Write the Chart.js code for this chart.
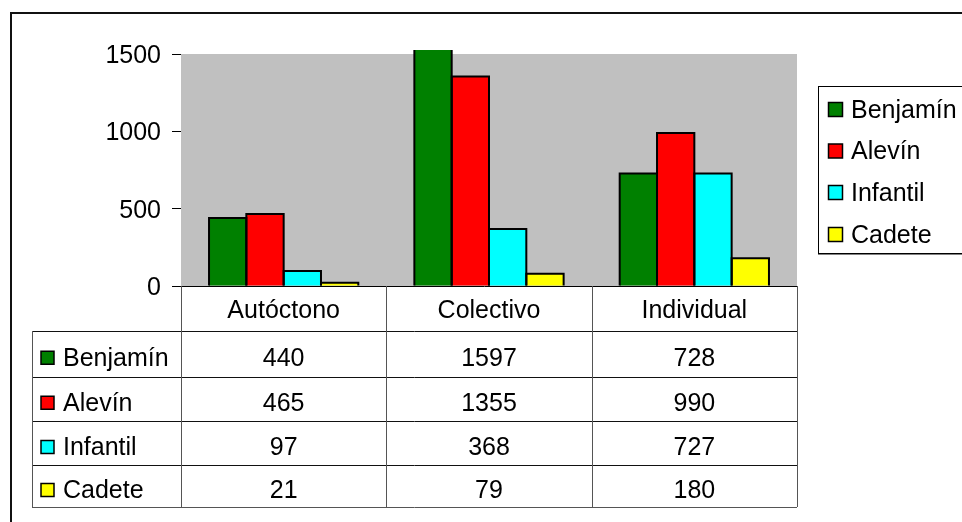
<!DOCTYPE html>
<html>
<head>
<meta charset="utf-8">
<script src="https://cdn.jsdelivr.net/npm/chart.js@4.4.0/dist/chart.umd.min.js"></script>
<style>
html,body{margin:0;padding:0;background:#fff;}
#wrap{width:962px;height:522px;position:relative;}
</style>
</head>
<body>
<div id="wrap"><canvas id="c" width="962" height="522"></canvas></div>
<script>
const categories = ['Autóctono', 'Colectivo', 'Individual'];
const seriesNames = ['Benjamín', 'Alevín', 'Infantil', 'Cadete'];
const benjamin = [440, 1597, 728];
const alevin = [465, 1355, 990];
const infantil = [97, 368, 727];
const cadete = [21, 79, 180];
const yTicks = [0, 500, 1000, 1500];

const seriesValues = [benjamin, alevin, infantil, cadete];
const seriesColors = ['#008000', '#FF0000', '#00FFFF', '#FFFF00'];
const FONT = '"Liberation Sans", Arial, sans-serif';
const FS = 25;
const TOP_OVERFLOW = 4;

const excelPlugin = {
  id: 'excelLook',
  beforeDatasetsDraw(chart) {
    const {ctx, chartArea: a} = chart;
    ctx.save();
    ctx.fillStyle = '#C0C0C0';
    ctx.fillRect(a.left, a.top, a.right - a.left, a.bottom - a.top);
    ctx.restore();
  },
  afterDatasetsDraw(chart) {
    const {ctx, chartArea: a} = chart;
    ctx.save();
    ctx.beginPath();
    ctx.rect(a.left, a.top - TOP_OVERFLOW, a.right - a.left, a.bottom - a.top + TOP_OVERFLOW + 2);
    ctx.clip();
    ctx.strokeStyle = '#000';
    ctx.lineWidth = 2;
    chart.data.datasets.forEach((ds, di) => {
      const meta = chart.getDatasetMeta(di);
      meta.data.forEach(el => {
        const p = el.getProps(['x', 'y', 'base', 'width'], true);
        const l = p.x - p.width / 2, r = p.x + p.width / 2;
        ctx.beginPath();
        ctx.moveTo(l, p.base);
        ctx.lineTo(l, p.y);
        ctx.lineTo(r, p.y);
        ctx.lineTo(r, p.base);
        ctx.stroke();
      });
    });
    ctx.restore();
  },
  afterDraw(chart) {
    const {ctx, chartArea: a} = chart;
    const xs = chart.scales.x;
    const n = categories.length;
    const colW = (a.right - a.left) / n;
    const rowY = [a.bottom, 331, 376.5, 421, 465, 507];
    const tableLeft = 32;
    const HDR_OFF = 3;
    const ROW_OFF = 5;
    ctx.save();
    ctx.font = FS + 'px ' + FONT;
    ctx.textBaseline = 'middle';

    // zero / header top line
    ctx.strokeStyle = '#000';
    ctx.lineWidth = 1;
    ctx.beginPath();
    ctx.moveTo(a.left - 9, Math.round(a.bottom) + 0.5);
    ctx.lineTo(a.right, Math.round(a.bottom) + 0.5);
    ctx.stroke();
    for (let r = 1; r < rowY.length; r++) {
      const y = Math.round(rowY[r]) + 0.5;
      ctx.strokeStyle = (r === rowY.length - 1) ? '#555' : '#111';
      ctx.beginPath();
      ctx.moveTo(tableLeft, y);
      ctx.lineTo(a.right, y);
      ctx.stroke();
    }
    // vertical lines
    ctx.strokeStyle = '#555';
    for (let i = 0; i <= n; i++) {
      const x = Math.round(a.left + i * colW) + 0.5;
      ctx.beginPath();
      ctx.moveTo(x, a.bottom);
      ctx.lineTo(x, rowY[rowY.length - 1]);
      ctx.stroke();
    }
    ctx.beginPath();
    ctx.moveTo(tableLeft + 0.5, rowY[1]);
    ctx.lineTo(tableLeft + 0.5, rowY[rowY.length - 1] + 0.5);
    ctx.stroke();

    // header labels
    ctx.fillStyle = '#000';
    ctx.textAlign = 'center';
    for (let i = 0; i < n; i++) {
      const cx = xs.getPixelForValue(i);
      ctx.fillText(categories[i], cx, (rowY[0] + rowY[1]) / 2 + HDR_OFF);
    }
    // rows
    chart.data.datasets.forEach((ds, r) => {
      const cy = (rowY[r + 1] + rowY[r + 2]) / 2;
      ctx.fillStyle = ds.backgroundColor;
      ctx.fillRect(41, cy - 2.5, 13, 13);
      ctx.strokeStyle = '#000';
      ctx.lineWidth = 1.5;
      ctx.strokeRect(41, cy - 2.5, 13, 13);
      ctx.fillStyle = '#000';
      ctx.textAlign = 'left';
      ctx.fillText(ds.label, 63, cy + ROW_OFF);
      ctx.textAlign = 'center';
      ds.data.forEach((v, i) => {
        ctx.fillText(String(v), xs.getPixelForValue(i), cy + ROW_OFF);
      });
    });

    // legend box
    const lx = 818, ly = 86, lw = 200, lh = 167;
    ctx.fillStyle = '#fff';
    ctx.fillRect(lx, ly, lw, lh);
    ctx.strokeStyle = '#808080';
    ctx.lineWidth = 2;
    ctx.beginPath();
    ctx.moveTo(lx, ly + lh + 1);
    ctx.lineTo(lx + lw, ly + lh + 1);
    ctx.stroke();
    ctx.strokeStyle = '#000';
    ctx.lineWidth = 1;
    ctx.strokeRect(lx + 0.5, ly + 0.5, lw, lh);
    const legY = [110, 151.5, 193, 235];
    chart.data.datasets.forEach((ds, r) => {
      const cy = legY[r];
      ctx.fillStyle = ds.backgroundColor;
      ctx.fillRect(828.5, cy - 7.5, 14, 14);
      ctx.strokeStyle = '#000';
      ctx.lineWidth = 1.5;
      ctx.strokeRect(828.5, cy - 7.5, 14, 14);
      ctx.fillStyle = '#000';
      ctx.textAlign = 'left';
      ctx.fillText(ds.label, 851, cy + 1);
    });

    // outer border
    ctx.strokeStyle = '#111';
    ctx.lineWidth = 2;
    ctx.strokeRect(11, 13, 1000, 600);
    ctx.restore();
  }
};

new Chart(document.getElementById('c'), {
  type: 'bar',
  data: {
    labels: categories,
    datasets: seriesNames.map((name, i) => ({
      label: name,
      data: seriesValues[i],
      backgroundColor: seriesColors[i],
      borderWidth: 0,
      categoryPercentage: 0.727,
      barPercentage: 1.0,
      clip: {left: 0, top: TOP_OVERFLOW, right: 0, bottom: 0}
    }))
  },
  options: {
    responsive: false,
    animation: false,
    devicePixelRatio: 1,
    layout: {padding: {left: 0, top: 54, right: 165, bottom: 236}},
    plugins: {legend: {display: false}, tooltip: {enabled: false}},
    scales: {
      x: {display: false},
      y: {
        min: 0, max: 1500,
        afterFit(s) { s.width = 181; },
        afterBuildTicks(s) { s.ticks = yTicks.map(v => ({value: v})); },
        ticks: {
          color: '#000', font: {family: FONT, size: FS}, padding: 11, labelOffset: 2,
          callback: v => String(v)
        },
        grid: {drawOnChartArea: false, tickLength: 9, color: '#000'},
        border: {display: true, color: '#444', width: 1}
      }
    }
  },
  plugins: [excelPlugin]
});
</script>
</body>
</html>
